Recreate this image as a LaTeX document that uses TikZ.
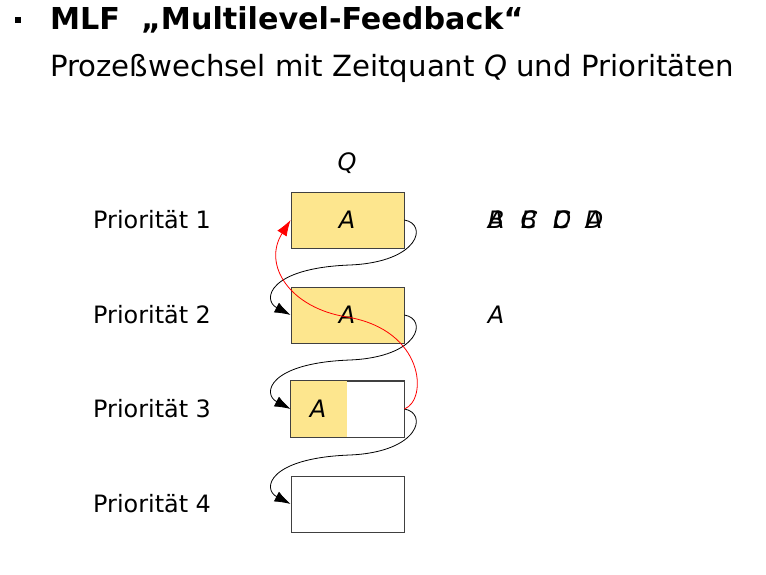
\documentclass[tikz,border=0pt]{standalone}
\usepackage{fontspec}
\setmainfont{DejaVu Sans}
\usetikzlibrary{arrows.meta}
\definecolor{boxyellow}{HTML}{FDE68E}
\tikzset{
  qbox/.style={draw=black!75, line width=0.8pt, minimum width=113pt, minimum height=56pt, inner sep=0pt},
  lbl/.style={font=\fontsize{23.9}{26}\selectfont, anchor=base west, inner sep=0pt},
  itl/.style={font=\fontsize{24}{26}\selectfont\itshape, inner sep=0pt},
  conn/.style={line width=0.8pt, -{Latex[length=16pt,width=11pt]}},
  redconn/.style={red, line width=0.8pt, -{Latex[length=16pt,width=11pt]}}
}
\begin{document}
\begin{tikzpicture}[x=1pt,y=-1pt]
\useasboundingbox (0,0) rectangle (766,575);
% header
\fill (15,17) rectangle (21,23);
\node[anchor=base west, inner sep=0pt, font=\fontsize{30.2}{34}\selectfont\bfseries] (title) at (50,30) {MLF\ \ „Multilevel-Feedback“};
\node[anchor=base west, inner sep=0pt, font=\fontsize{29.2}{32}\selectfont] (sub) at (50,77) {Prozeßwechsel mit Zeitquant \textit{Q} und Prioritäten};
% Q
\node[itl] (q) at (347,163) {Q};
% boxes
\node[qbox, fill=boxyellow] (b1) at (347.5,220) {};
\node[qbox, fill=boxyellow] (b2) at (347.5,315) {};
\node[qbox] (b3) at (347.5,409) {};
\fill[boxyellow] (291,381) rectangle (347,437);
\draw[draw=black!75, line width=0.8pt] (b3.north west) rectangle (b3.south east);
\node[qbox] (b4) at (347.5,504) {};
\node[itl] (a1) at (347,220) {A};
\node[itl] (a2) at (347,315) {A};
\node[itl] (a3) at (318,409) {A};
% labels
\node[lbl] (p1) at (93,228) {Priorität 1};
\node[lbl] (p2) at (93,323) {Priorität 2};
\node[lbl] (p3) at (93,417) {Priorität 3};
\node[lbl] (p4) at (93,512) {Priorität 4};
% queue letters (overlaid, as in the reference)
\node[itl] (r1) at (496,220) {A};
\node[itl] (r1b) at (496,220) {B};
\node[itl] (r2) at (529,220) {B};
\node[itl] (r2b) at (529,220) {C};
\node[itl] (r3) at (562,220) {C};
\node[itl] (r3b) at (562,220) {D};
\node[itl] (r4) at (594,220) {D};
\node[itl] (r4b) at (594,220) {A};
\node[itl] (r5) at (496,315) {A};
% connectors
\draw[conn] (b1.east) .. controls (428,224) and (420,262) .. (350,265) .. controls (268,268) and (262,300) .. (b2.west);
\draw[conn] (b2.east) .. controls (428,319) and (420,357) .. (350,360) .. controls (268,363) and (262,394) .. (b3.west);
\draw[conn] (b3.east) .. controls (428,413) and (420,452) .. (350,455) .. controls (268,458) and (262,489) .. (b4.west);
\draw[redconn] (b3.east) .. controls (428,400) and (425,330) .. (347,317) .. controls (290,308) and (262,265) .. (b1.west);
\end{tikzpicture}
\end{document}
